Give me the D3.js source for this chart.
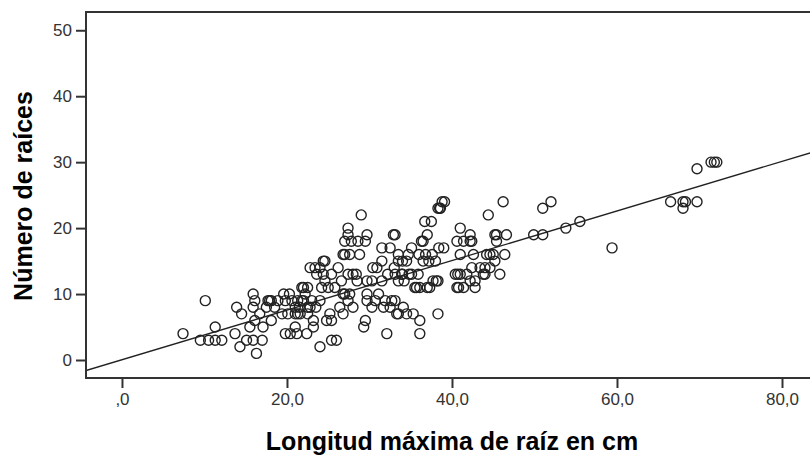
<!DOCTYPE html>
<html>
<head>
<meta charset="utf-8">
<script src="https://cdn.jsdelivr.net/npm/d3@7"></script>
<style>
  html, body { margin: 0; padding: 0; background: #fff; }
  svg { display: block; }
</style>
</head>
<body>
<svg id="chart" width="810" height="456"></svg>
<script>
// ---- data ----
const longitud = [
  7.4,10.1,9.5,10.5,11.3,12.1,11.3,13.9,14.5,13.7,14.3,15.9,16.1,15.9,15.5,16.3,15.1,15.9,17.0,17.1,
  16.7,16.1,18.1,17.5,18.1,18.5,17.7,18.9,19.8,20.6,21.3,19.4,20.1,21.0,19.8,20.4,21.2,21.6,22.0,17.9,
  19.6,20.3,21.8,22.5,22.2,21.0,21.5,22.0,22.5,23.0,23.5,24.0,21.8,22.8,21.3,22.5,21.0,22.4,23.2,24.0,
  25.4,26.0,24.8,23.2,25.4,24.2,25.8,25.0,24.6,25.4,23.6,24.4,23.4,22.8,24.0,26.2,24.4,24.6,27.0,26.8,
  27.4,28.0,26.4,25.2,26.8,27.6,26.8,27.6,28.8,27.0,27.4,27.4,27.0,27.8,28.6,29.0,29.7,29.5,27.4,28.0,
  28.4,26.6,28.5,29.7,31.1,31.9,32.7,33.1,29.7,30.7,30.3,31.7,34.1,32.5,33.5,34.5,33.3,35.3,36.1,29.5,
  29.3,32.1,36.1,30.3,29.7,31.5,30.4,30.9,31.5,32.2,33.1,33.9,31.5,32.5,33.5,34.7,33.1,32.9,33.5,34.0,
  34.5,33.0,33.5,34.2,34.0,34.8,35.1,35.9,35.1,35.5,36.1,37.3,35.7,37.0,36.0,36.8,37.6,36.5,37.2,38.0,
  36.3,36.5,37.0,36.7,37.5,38.4,39.0,38.3,37.7,38.1,38.3,38.5,38.3,39.1,38.8,38.6,41.0,42.2,40.6,41.4,
  42.2,42.4,40.4,40.7,41.0,41.8,40.6,41.4,40.8,42.8,42.8,42.2,41.0,42.6,44.6,46.4,44.2,45.0,45.2,42.4,
  44.0,43.4,44.6,44.0,45.8,43.8,44.4,46.2,45.2,46.6,45.4,45.4,49.9,51.0,51.0,52.0,53.8,55.5,59.4,66.5,
  68.0,68.0,69.7,68.3,69.7,71.4,71.8,72.1
];
const raices = [
  4,9,3,3,3,3,5,8,7,4,2,10,9,8,5,1,3,3,3,5,
  7,6,6,8,9,8,9,9,9,9,9,7,7,7,4,4,4,7,11,9,
  10,10,11,11,10,8,8,9,8,9,8,9,9,8,7,7,5,4,5,2,
  3,3,6,6,6,11,11,11,12,13,13,13,14,14,14,14,15,15,10,10,
  9,8,8,7,7,10,16,16,16,16,20,19,18,18,18,22,19,18,13,13,
  13,12,12,10,10,9,9,9,9,9,8,8,8,8,7,7,7,7,6,6,
  5,4,4,12,12,12,14,14,15,13,13,13,17,17,16,16,19,19,15,15,
  15,14,12,12,13,13,13,13,17,11,11,11,11,11,16,16,16,15,15,15,
  18,18,19,21,21,17,17,12,12,12,7,23,23,24,24,23,20,19,18,18,
  18,18,13,13,13,13,11,11,11,11,12,12,16,16,16,16,16,16,15,14,
  14,14,14,13,13,13,22,24,19,19,19,18,19,19,23,24,20,21,17,24,
  24,23,24,24,29,30,30,30
];
const fitIntercept = 0.04;   // fit line: raices = a + b * longitud
const fitSlope = 0.376;
const xTicks = [0, 20, 40, 60, 80];
const xTickLabels = [",0", "20,0", "40,0", "60,0", "80,0"];
const yTicks = [0, 10, 20, 30, 40, 50];
const yTickLabels = ["0", "10", "20", "30", "40", "50"];
const xTitle = "Longitud máxima de raíz en cm";
const yTitle = "Número de raíces";

// ---- layout ----
const svg = d3.select("#chart");
const pL = 86, pR = 815, pT = 12, pB = 378;
const x = d3.scaleLinear().domain([-4.36, 84.0]).range([pL, pR]);
const y = d3.scaleLinear().domain([-2.73, 52.77]).range([pB, pT]);

const axisColor = "#333";
const textColor = "#333";

svg.append("defs").append("clipPath").attr("id", "plotclip")
  .append("rect").attr("x", pL).attr("y", pT).attr("width", pR - pL).attr("height", pB - pT);

// points
const n = Math.min(longitud.length, raices.length);
const pts = d3.range(n).map(i => ({ x: longitud[i], y: raices[i] }));
svg.append("g").attr("clip-path", "url(#plotclip)")
  .selectAll("circle").data(pts).join("circle")
  .attr("cx", d => x(d.x)).attr("cy", d => y(d.y)).attr("r", 5)
  .attr("fill", "none").attr("stroke", "#222").attr("stroke-width", 1.4);

// fit line
const xd = x.domain();
svg.append("g").attr("clip-path", "url(#plotclip)")
  .append("line")
  .attr("x1", x(xd[0])).attr("y1", y(fitIntercept + fitSlope * xd[0]))
  .attr("x2", x(xd[1])).attr("y2", y(fitIntercept + fitSlope * xd[1]))
  .attr("stroke", "#222").attr("stroke-width", 1.3);

// frame
svg.append("rect").attr("x", pL).attr("y", pT).attr("width", pR - pL).attr("height", pB - pT)
  .attr("fill", "none").attr("stroke", axisColor).attr("stroke-width", 2);

// y axis
const yAxis = d3.axisLeft(y).tickValues(yTicks).tickSize(10).tickSizeOuter(0)
  .tickPadding(4).tickFormat((d, i) => yTickLabels[i]);
const gy = svg.append("g").attr("transform", `translate(${pL},0)`).call(yAxis);
gy.select(".domain").remove();
gy.selectAll(".tick line").attr("stroke", axisColor).attr("stroke-width", 2);
gy.selectAll(".tick text").attr("fill", textColor)
  .style("font-family", "'Liberation Sans', Arial, sans-serif").style("font-size", "17px");

// x axis
const xAxis = d3.axisBottom(x).tickValues(xTicks).tickSize(10).tickSizeOuter(0)
  .tickPadding(5).tickFormat((d, i) => xTickLabels[i]);
const gx = svg.append("g").attr("transform", `translate(0,${pB})`).call(xAxis);
gx.select(".domain").remove();
gx.selectAll(".tick line").attr("stroke", axisColor).attr("stroke-width", 2);
gx.selectAll(".tick text").attr("fill", textColor)
  .style("font-family", "'Liberation Sans', Arial, sans-serif").style("font-size", "17px");

// titles
svg.append("text").attr("x", 452).attr("y", 450).attr("text-anchor", "middle")
  .attr("fill", "#000").style("font-family", "'Liberation Sans', Arial, sans-serif")
  .style("font-weight", "bold").style("font-size", "25px").text(xTitle);
svg.append("text").attr("transform", "translate(32,196) rotate(-90)").attr("text-anchor", "middle")
  .attr("fill", "#000").style("font-family", "'Liberation Sans', Arial, sans-serif")
  .style("font-weight", "bold").style("font-size", "25px").text(yTitle);
</script>
</body>
</html>
